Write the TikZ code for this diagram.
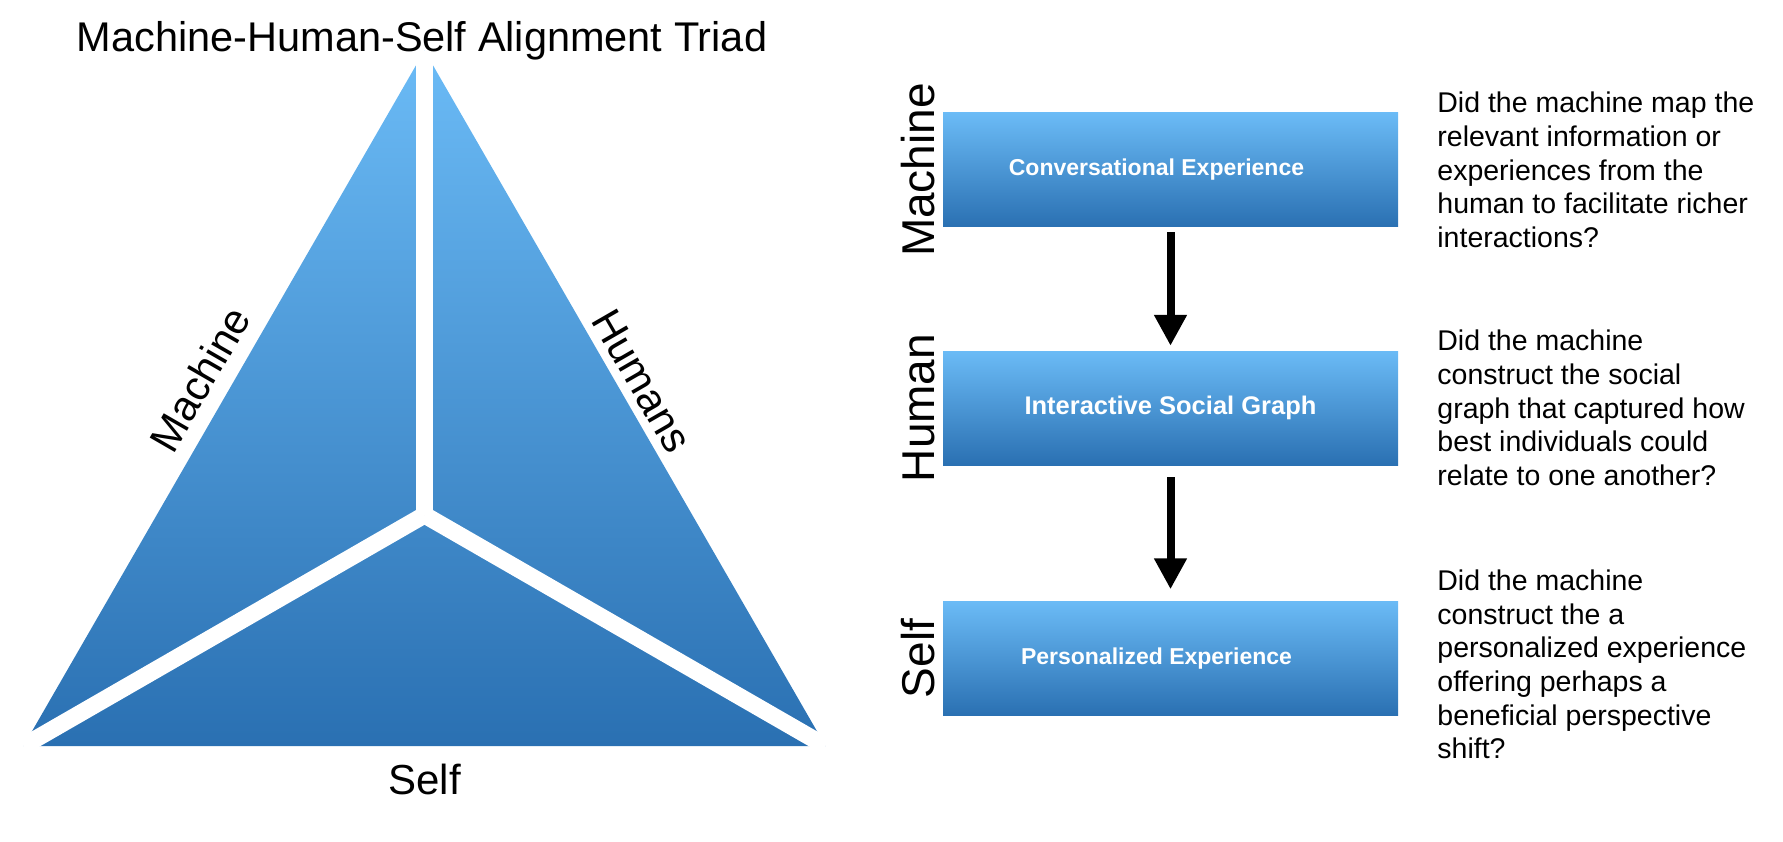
\documentclass[tikz,border=0pt]{standalone}
\usepackage{fontspec}
\setmainfont{Liberation Sans}
\usetikzlibrary{arrows.meta}
\definecolor{triadlight}{RGB}{107,187,246}
\definecolor{triaddark}{RGB}{42,112,178}
\tikzset{
  stagebox/.style={rectangle, minimum width=455pt, minimum height=114pt, top color=triadlight, bottom color=triaddark, text=white, font=\fontsize{23}{28}\selectfont\bfseries},
  sidelabel/.style={font=\fontsize{46}{55}\selectfont, inner sep=0pt, rotate=90, anchor=south},
  question/.style={font=\fontsize{28.5}{33.7}\selectfont, align=left, inner sep=0pt, anchor=west},
  edgelabel/.style={font=\fontsize{42}{50}\selectfont, inner sep=0pt},
  flow/.style={line width=8pt, -{Triangle[width=31pt,length=31pt]}},
  gap/.style={white, line width=17pt},
}
\begin{document}
\begin{tikzpicture}[x=1pt, y=-1pt]
  \useasboundingbox (0,0) rectangle (1783,842);
  % triad
  \coordinate (top) at (424.5,50.6);
  \coordinate (bl) at (23.5,746);
  \coordinate (br) at (825.5,746);
  \coordinate (mid) at (424.5,515);
  \shade[top color=triadlight, bottom color=triaddark] (top) -- (bl) -- (br) -- cycle;
  \draw[gap] (mid) -- (top);
  \draw[gap] (mid) -- (bl);
  \draw[gap] (mid) -- (br);

  \node[font=\fontsize{41.5}{50}\selectfont, anchor=base] (title) at (422,52) {Machine-Human-Self Alignment Triad};
  \node[edgelabel, anchor=base] (selfside) at (424.5,794) {Self};
  \node[edgelabel, rotate=60] (machside) at (200,379) {Machine};
  \node[edgelabel, rotate=-60] (humside) at (642,381) {Humans};

  % stages
  \node[stagebox] (conv) at (1170.5,170) {Conversational Experience\hspace*{28pt}};
  \node[stagebox, font=\fontsize{25.5}{30}\selectfont\bfseries] (social) at (1170.5,408) {Interactive Social Graph};
  \node[stagebox] (pers) at (1170.5,658.5) {Personalized Experience\hspace*{28pt}};

  \draw[flow, shorten <=5pt, shorten >=5pt] (conv) -- (social);
  \draw[flow, shorten <=12pt, shorten >=12pt] (social) -- (pers);

  \node[sidelabel] (lblmachine) at ([xshift=-8pt]conv.west) {Machine};
  \node[sidelabel] (lblhuman) at ([xshift=-8pt]social.west) {Human};
  \node[sidelabel] (lblself) at ([xshift=-8pt]pers.west) {Self};

  \node[question] (q1) at ([xshift=39pt]conv.east) {Did the machine map the\\relevant information or\\experiences from the\\human to facilitate richer\\interactions?};
  \node[question] (q2) at ([xshift=39pt]social.east) {Did the machine\\construct the social\\graph that captured how\\best individuals could\\relate to one another?};
  \node[question] (q3) at ([xshift=39pt, yshift=-6pt]pers.east) {Did the machine\\construct the a\\personalized experience\\offering perhaps a\\beneficial perspective\\shift?};
\end{tikzpicture}
\end{document}
